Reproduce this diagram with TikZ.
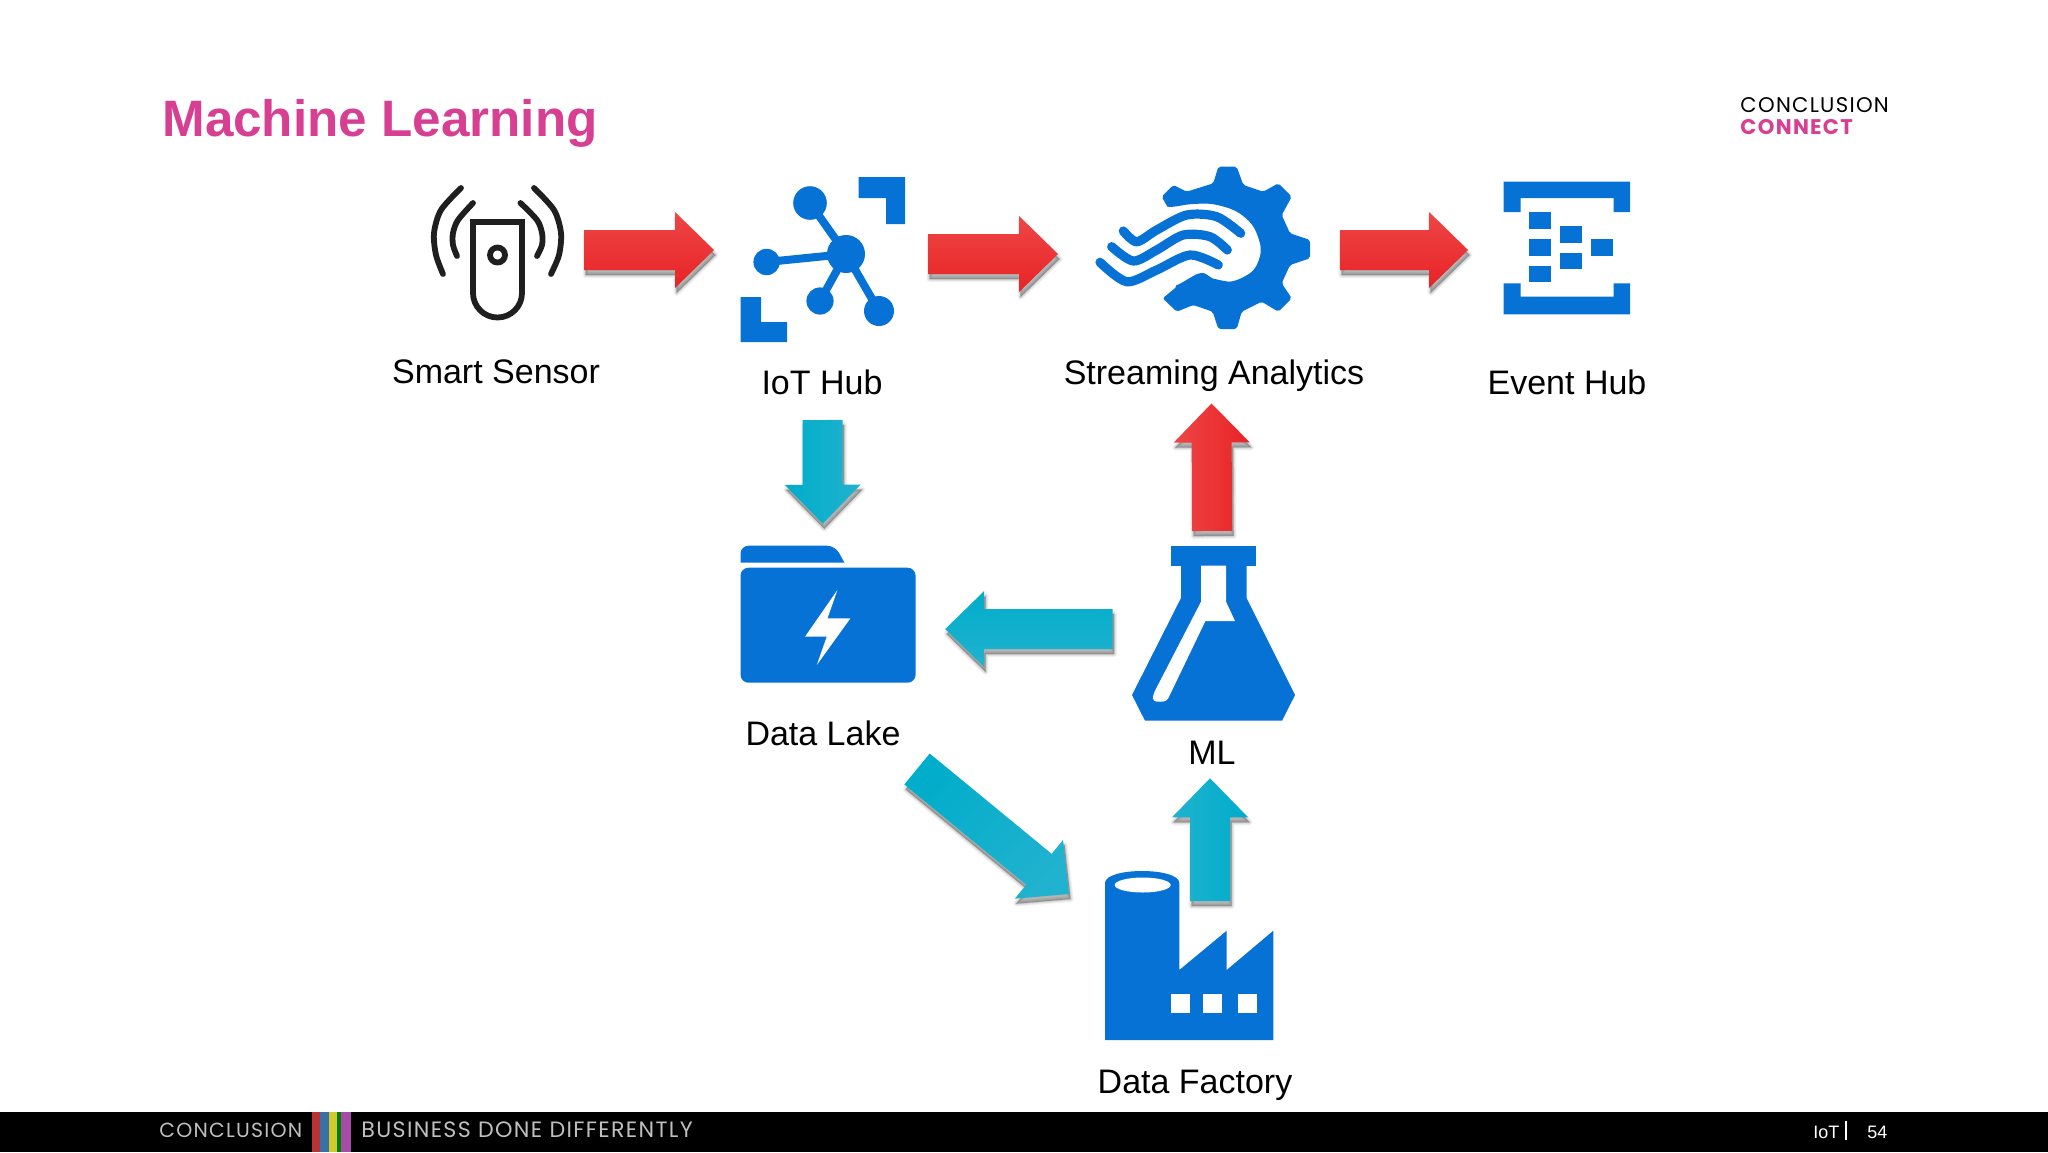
\documentclass[tikz,border=0pt]{standalone}
\usepackage{fontspec}
\setmainfont{Liberation Sans}
\newfontfamily\logofont[LetterSpace=6]{Poppins}
\usetikzlibrary{calc}
\definecolor{azure}{HTML}{0672D6}
\definecolor{titlepink}{HTML}{D63F92}
\definecolor{redlight}{HTML}{EE4646}
\definecolor{reddark}{HTML}{E82326}
\definecolor{cyanlight}{HTML}{20B2CF}
\definecolor{cyandark}{HTML}{00ADCA}
\tikzset{
  iconbox/.style={inner sep=0pt,outer sep=0pt},
  icon/.style={fill=azure},
  blank/.style={fill=white},
  sensorline/.style={draw=black!88,line width=2.9pt,line cap=round},
  waveline/.style={draw=azure,line width=4.6pt,line cap=round},
  caption/.style={anchor=base,font=\fontsize{17}{20}\selectfont,text=black,inner sep=0pt},
  footertext/.style={anchor=base west,inner sep=0pt,text=black!25,font=\logofont\fontsize{10.2}{12}\selectfont},
  redflow/.style={top color=redlight,bottom color=reddark},
  cyanflow/.style={top color=cyandark,bottom color=cyanlight}
}
\newcommand{\flowoutline}[2]{
  ($(#1)!10pt!90:(#2)$) -- ($(flowbase)!10pt!90:(#2)$) -- ($(flowbase)!19pt!90:(#2)$) -- (#2)
  -- ($(flowbase)!19pt!-90:(#2)$) -- ($(flowbase)!10pt!-90:(#2)$) -- ($(#1)!10pt!-90:(#2)$) -- cycle}
\newcommand{\flowarrow}[3]{
  \coordinate (flowbase) at ($(#2)!19.5pt!(#1)$);
  \foreach \lw/\op in {3/0.05,2/0.06,1/0.08,0.1/0.14}
    \fill[black,draw=black,line width=\lw pt,line join=round,opacity=\op,transform canvas={shift={(1.5,5)}}] \flowoutline{#1}{#2};
  \path[#3] \flowoutline{#1}{#2};
}
\begin{document}
\begin{tikzpicture}[x=0.5pt,y=-0.5pt]
  \useasboundingbox (0,0) rectangle (2048,1152);
  \node[anchor=base west,inner sep=0pt,text=titlepink,font=\bfseries\fontsize{25.6}{30}\selectfont] (title) at (162,136) {Machine Learning};
  \node[anchor=base west,inner sep=0pt,text=black,font=\logofont\fontsize{10.6}{12}\selectfont] (logotop) at (1740,112) {CONCLUSION};
  \node[anchor=base west,inner sep=0pt,text=titlepink,font=\logofont\bfseries\fontsize{10.6}{12}\selectfont] (logobottom) at (1740,134) {CONNECT};

  \node[iconbox,minimum width=65pt,minimum height=67pt] (sensor) at (497,252) {};
  \node[iconbox,minimum width=83pt,minimum height=82.5pt] (hub) at (823,259.5) {};
  \node[iconbox,minimum width=105pt,minimum height=81.5pt] (stream) at (1205,248) {};
  \node[iconbox,minimum width=63.25pt,minimum height=66.3pt] (event) at (1566.75,248) {};
  \node[iconbox,minimum width=87.5pt,minimum height=68.5pt] (lake) at (828,614.2) {};
  \node[iconbox,minimum width=81.5pt,minimum height=87.35pt] (ml) at (1213.5,633.3) {};
  \node[iconbox,minimum width=84.15pt,minimum height=83.65pt] (factory) at (1189.2,956.4) {};

  \draw[sensorline] (473,222) -- (522,222) -- (522,293) arc[start angle=0,end angle=-180,radius=12.25pt] -- cycle;
  \draw[sensorline] (497.5,255) circle[radius=3.75pt];
  \draw[sensorline] plot[smooth] coordinates {(461,188) (441,210) (434,233) (436,255) (443,274)};
  \draw[sensorline] plot[smooth] coordinates {(534,188) (554,210) (561,233) (559,255) (551,274)};
  \draw[sensorline] plot[smooth] coordinates {(473,203) (458,220) (453,233) (453,245) (457,256)};
  \draw[sensorline] plot[smooth] coordinates {(520.5,203) (537,220) (542,233) (542,245) (537,256)};

  \fill[icon] (858.5,177) -- (905,177) -- (905,224) -- (886,224) -- (886,198) -- (858.5,198) -- cycle;
  \fill[icon] (740.6,297) -- (761,297) -- (761,322) -- (787,322) -- (787,342) -- (740.6,342) -- cycle;
  \foreach \cx/\cy/\cr in {810/203/8.4,766.6/262/6.6,820/301/6.8,879/311/7.5} {
    \draw[azure,line width=4pt] (846,254) -- (\cx,\cy);
    \fill[icon] (\cx,\cy) circle[radius=\cr pt];
  }
  \fill[icon] (846,254) circle[radius=9.5pt];

  \fill[icon,rounded corners=1pt] (1161.7,196.7) -- (1173.3,185) -- (1186.7,191.7) -- (1213.3,183.3) -- (1218.3,166.7) -- (1236.7,166.7)
    -- (1243.3,185) -- (1263.3,191.7) -- (1278.3,183.3) -- (1291.7,196.7) -- (1281.7,215) -- (1290,233.3) -- (1310,240) -- (1310,258.3)
    -- (1290,265) -- (1281.7,283.3) -- (1291.7,298.3) -- (1278.3,311.7) -- (1261.7,301.7) -- (1241.7,311.7) -- (1236.7,329) -- (1218.3,329)
    -- (1212.7,311.7) -- (1193.3,305) -- (1176.7,311.7) -- (1162.7,298.3) -- (1176.7,286.7)
    -- plot[smooth] coordinates {(1176.7,286.7) (1200,273.3) (1215,279) (1233.3,281) (1253.3,270) (1260.7,250) (1253.3,226.7) (1236.7,211.7) (1213.3,204.3) (1190,204.3) (1168.3,208.3)} -- cycle;
  \draw[waveline] plot[smooth] coordinates {(1123.3,231) (1136.7,241.7) (1156.7,230) (1186.7,215) (1216.7,216.7) (1240.7,233.3)};
  \draw[waveline] plot[smooth] coordinates {(1111.7,246.7) (1133.3,261) (1156.7,250) (1183.3,235) (1210,236.7) (1227.3,250)};
  \draw[waveline] plot[smooth] coordinates {(1100,262.3) (1126.7,281.7) (1156.7,270) (1190,255) (1218.3,265)};

  \fill[icon] (1503.5,212) -- (1503.5,181.7) -- (1630,181.7) -- (1630,212) -- (1613.7,212) -- (1613.7,198) -- (1520.7,198) -- (1520.7,212) -- cycle;
  \fill[icon] (1503.5,283.3) -- (1503.5,314.3) -- (1630,314.3) -- (1630,283.3) -- (1613.7,283.3) -- (1613.7,296.7) -- (1520.7,296.7) -- (1520.7,283.3) -- cycle;
  \foreach \bx/\by in {1529.3/212,1529.3/239.3,1529.3/265.7,1560.3/226,1560.3/252.7,1591.3/239.3}
    \fill[icon] (\bx,\by) rectangle ++(21.7,16.7);

  \fill[icon] (740.5,562.7) [rounded corners=4pt] -- (740.5,545.7) -- (835,545.7) [sharp corners] -- (844.5,562.7) -- cycle;
  \fill[icon,rounded corners=4pt] (740.5,567.7) rectangle (915.6,682.7);
  \fill[blank] (837.4,590) -- (805,636.7) -- (826.7,636.7) -- (816.8,665) -- (850.4,618.3) -- (827.5,618.3) -- cycle;

  \fill[icon] (1171.4,546) rectangle (1256,565.7);
  \fill[icon] (1181,565) -- (1246.5,565) -- (1246.5,598) -- (1295,695) -- (1282,720.7) -- (1145,720.7) -- (1132,695) -- (1181,598) -- cycle;
  \fill[blank] (1201,565.7) -- (1226,565.7) -- (1226,601.7) -- (1235,621) -- (1205.4,621) [rounded corners=2pt] -- (1166.6,701.7) -- (1152.8,701.7) -- (1152.8,695) [sharp corners] -- (1201,601.7) -- cycle;

  \fill[icon] (1105,1040) -- (1105,883) .. controls (1105,867) and (1179.3,867) .. (1179.3,883) -- (1179.3,970) -- (1226.7,930.7) -- (1226.7,970) -- (1273.3,930.7) -- (1273.3,1040) -- cycle;
  \fill[blank] (1142.7,885) ellipse[x radius=14pt,y radius=3.75pt];
  \foreach \wx in {1171,1203.3,1237.7}
    \fill[blank] (\wx,994) rectangle ++(19,18.7);

  \node[caption] (sensorlabel) at (496,383) {Smart Sensor};
  \node[caption] (hublabel) at (822,394) {IoT Hub};
  \node[caption] (streamlabel) at (1214,384) {Streaming Analytics};
  \node[caption] (eventlabel) at (1567,394) {Event Hub};
  \node[caption] (lakelabel) at (823,745) {Data Lake};
  \node[caption] (mllabel) at (1212,764) {ML};
  \node[caption] (factorylabel) at (1195,1093) {Data Factory};

  \flowarrow{[shift={(22,-2)}]sensor.east}{[shift={(-26,-9.5)}]hub.west}{redflow}
  \flowarrow{[shift={(22,-5.5)}]hub.east}{[shift={(-42,6)}]stream.west}{redflow}
  \flowarrow{[shift={(30,2)}]stream.east}{[shift={(-35.5,2)}]event.west}{redflow}
  \flowarrow{[shift={(-1.5,-15)}]ml.north}{[shift={(6.5,74)}]stream.south}{redflow,shading angle=90}
  \flowarrow{[shift={(-0.5,78)}]hub.south}{[shift={(-5.2,-22)}]lake.north}{cyanflow,shading angle=90}
  \flowarrow{[shift={(-19.5,-4.3)}]ml.west}{[shift={(29.7,14.8)}]lake.east}{cyanflow}
  \flowarrow{[shift={(89,86.3)}]lake.south}{[shift={(-36,21.3)}]factory.north west}{cyanflow,shading angle=45}
  \flowarrow{[shift={(20.8,28.3)}]factory.north}{[shift={(-3.5,57.6)}]ml.south}{cyanflow,shading angle=-90}

  \fill[black] (0,1112) rectangle (2048,1152);
  \fill[red!65!black!80!white] (312,1112) rectangle (320,1152);
  \fill[cyan!60!blue!75!black] (320,1112) rectangle (329,1152);
  \fill[yellow!80!black] (329,1112) rectangle (337,1152);
  \fill[green!50!black] (337,1112) rectangle (341,1152);
  \fill[violet!70!white] (341,1112) rectangle (351,1152);
  \node[footertext] (footerleft) at (159,1137) {CONCLUSION};
  \node[footertext,font=\logofont\fontsize{11.1}{13}\selectfont] (footerright) at (361,1137) {BUSINESS DONE DIFFERENTLY};
  \node[anchor=base west,inner sep=0pt,text=white,font=\fontsize{9}{11}\selectfont] (section) at (1813,1138) {IoT};
  \fill[white] (1845,1121) rectangle (1847,1140);
  \node[anchor=base west,inner sep=0pt,text=white,font=\fontsize{9}{11}\selectfont] (pagenum) at (1867,1138) {54};
\end{tikzpicture}
\end{document}
